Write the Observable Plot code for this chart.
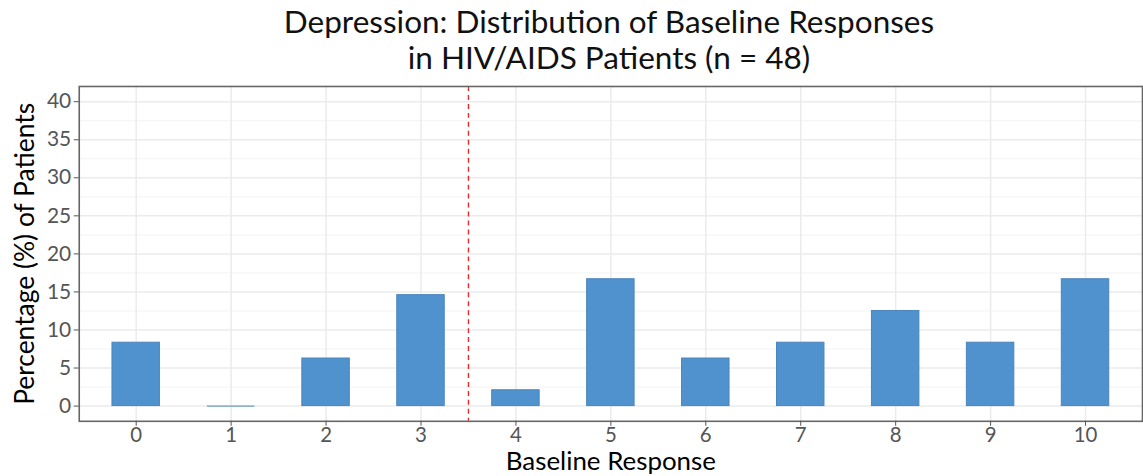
<!DOCTYPE html>
<html><head><meta charset="utf-8">
<script src="https://cdn.jsdelivr.net/npm/d3@7"></script>
<script src="https://cdn.jsdelivr.net/npm/@observablehq/plot@0.6"></script>
<style>
html,body{margin:0;padding:0;background:#fff;overflow:hidden;width:1143px;height:476px;position:relative}
#title{position:absolute;left:0;top:3px;width:1218px;text-align:center;font-family:Lato,"Open Sans",sans-serif;font-size:31.5px;line-height:36px;color:#111}
#chart{position:absolute;left:0;top:80px}
</style></head>
<body>
<div id="title">Depression: Distribution of Baseline Responses<br>in HIV/AIDS Patients (n = 48)</div>
<div id="chart"></div>
<script>
const responses = [0,1,2,3,4,5,6,7,8,9,10];
const percents = [8.33,0,6.25,14.58,2.08,16.67,6.25,8.33,12.5,8.33,16.67];
const yTicks = [0,5,10,15,20,25,30,35,40];
const yMinor = [2.5,7.5,12.5,17.5,22.5,27.5,32.5,37.5];
const cutoff = [3.5];
const titleX = "Baseline Response";
const titleY = "Percentage (%) of Patients";

const data = responses.map((r,i)=>({r, p: percents[i]}));
const halfW = 0.25;

const chart = Plot.plot({
  width: 1147, height: 396,
  marginLeft: 79, marginRight: 1, marginTop: 6, marginBottom: 54,
  style: {fontFamily: "Lato, 'Open Sans', sans-serif", background: "#fff"},
  x: {domain: [-0.6, 10.6]},
  y: {domain: [-2, 42]},
  marks: [
    Plot.gridY(yMinor, {stroke: "#f3f3f3", strokeOpacity: 1, strokeWidth: 1}),
    Plot.gridY(yTicks, {stroke: "#ebebeb", strokeOpacity: 1, strokeWidth: 1.5}),
    Plot.gridX(responses, {stroke: "#ebebeb", strokeOpacity: 1, strokeWidth: 1.5}),
    Plot.rect(data, {x1: d => d.r - halfW, x2: d => d.r + halfW, y1: 0, y2: "p", fill: "#4f92cd", stroke: "#4a86bd", strokeWidth: 1}),
    Plot.ruleY(data.filter(d => d.p === 0), {x1: d => d.r - halfW, x2: d => d.r + halfW, y: "p", stroke: "#4a86bd", strokeWidth: 1}),
    Plot.ruleX(cutoff, {stroke: "#e8282b", strokeWidth: 1.4, strokeDasharray: "5,4"}),
    Plot.frame({stroke: "#666", strokeWidth: 1.6}),
    Plot.axisY(yTicks, {fontSize: 21, fill: "#555", tickSize: 5, tickPadding: 3, label: null, stroke: "#555"}),
    Plot.axisX(responses, {fontSize: 20.5, fill: "#555", tickSize: 5, tickPadding: 1, label: null, stroke: "#555", tickFormat: d => String(d)}),
    Plot.text([titleX], {frameAnchor: "bottom", dy: 48.5, text: d => d, fontSize: 26, fill: "#000", lineAnchor: "bottom"}),
    Plot.text([titleY], {frameAnchor: "left", dx: -54, rotate: -90, textAnchor: "middle", text: d => d, fontSize: 26.5, fill: "#000"})
  ]
});
document.getElementById("chart").appendChild(chart);
</script>
</body></html>
